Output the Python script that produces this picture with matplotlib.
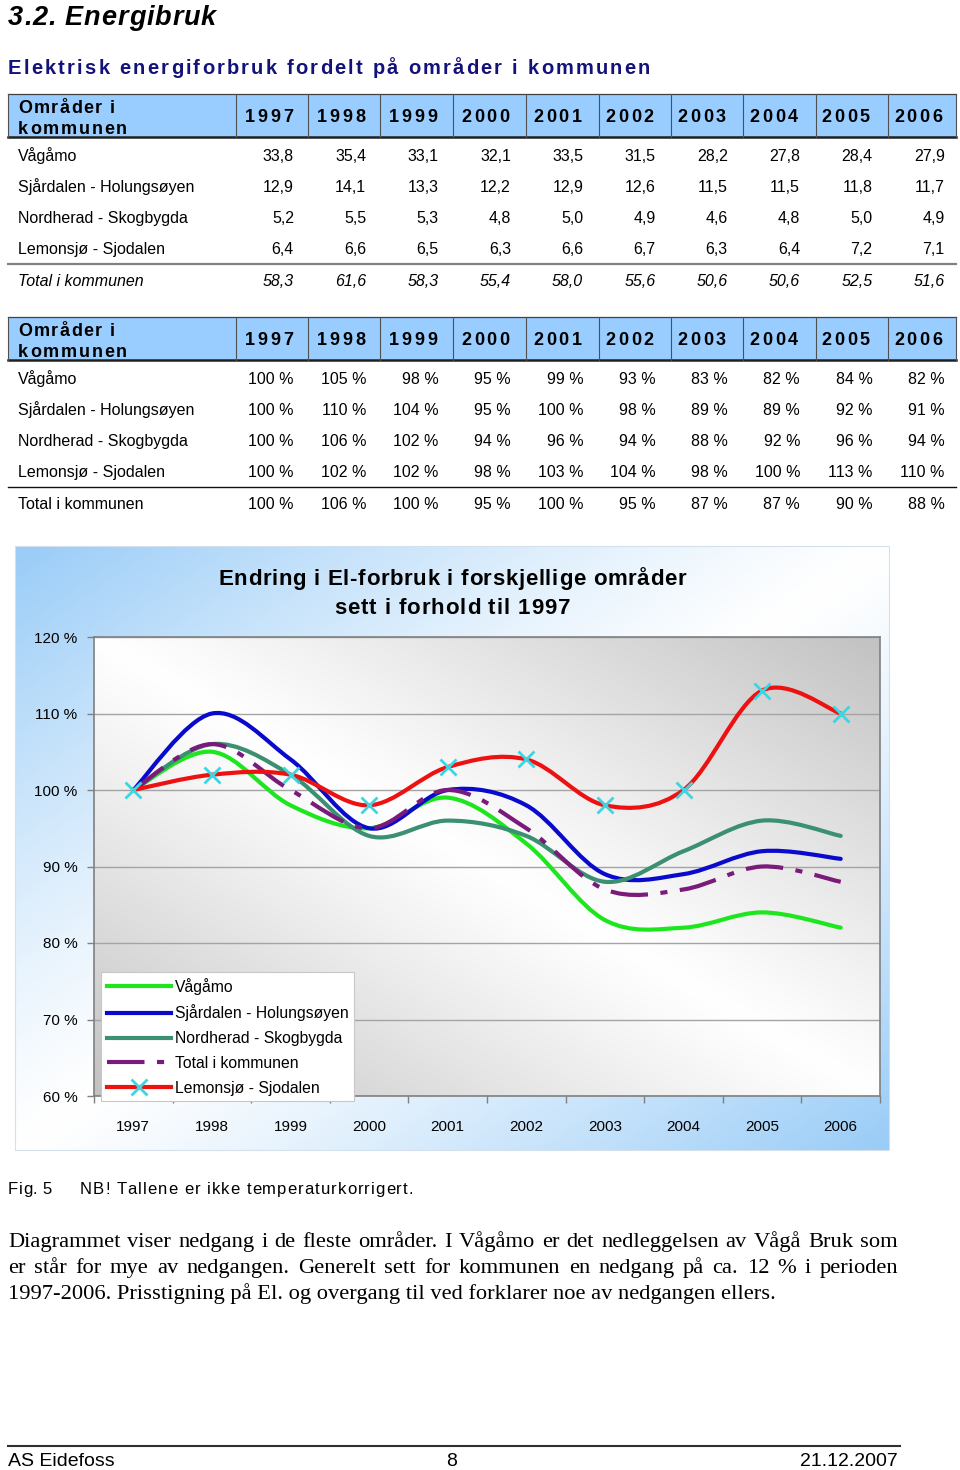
import numpy as np
import matplotlib
matplotlib.use("Agg")
import matplotlib.pyplot as plt
from matplotlib.path import Path
from matplotlib.patches import PathPatch, Rectangle
from matplotlib.lines import Line2D

plt.rcParams["font.family"] = ["Liberation Sans", "DejaVu Sans"]

# ------------------------------------------------------------
# Data
# ------------------------------------------------------------
YEARS = [1997, 1998, 1999, 2000, 2001, 2002, 2003, 2004, 2005, 2006]
AREAS = ["Vågåmo", "Sjårdalen - Holungsøyen", "Nordherad - Skogbygda",
         "Lemonsjø - Sjodalen"]
TOTAL_LABEL = "Total i kommunen"

# GWh per area
GWH_VAGAMO = [33.8, 35.4, 33.1, 32.1, 33.5, 31.5, 28.2, 27.8, 28.4, 27.9]
GWH_SJARDALEN = [12.9, 14.1, 13.3, 12.2, 12.9, 12.6, 11.5, 11.5, 11.8, 11.7]
GWH_NORDHERAD = [5.2, 5.5, 5.3, 4.8, 5.0, 4.9, 4.6, 4.8, 5.0, 4.9]
GWH_LEMONSJO = [6.4, 6.6, 6.5, 6.3, 6.6, 6.7, 6.3, 6.4, 7.2, 7.1]
GWH_TOTAL = [58.3, 61.6, 58.3, 55.4, 58.0, 55.6, 50.6, 50.6, 52.5, 51.6]

# relative to 1997 (%)
PCT_VAGAMO = [100, 105, 98, 95, 99, 93, 83, 82, 84, 82]
PCT_SJARDALEN = [100, 110, 104, 95, 100, 98, 89, 89, 92, 91]
PCT_NORDHERAD = [100, 106, 102, 94, 96, 94, 88, 92, 96, 94]
PCT_LEMONSJO = [100, 102, 102, 98, 103, 104, 98, 100, 113, 110]
PCT_TOTAL = [100, 106, 100, 95, 100, 95, 87, 87, 90, 88]

PARAGRAPH = [
    "Diagrammet viser nedgang i de fleste områder. I Vågåmo er det nedleggelsen av Vågå Bruk som",
    "er står for mye av nedgangen. Generelt sett for kommunen en nedgang på ca. 12 % i perioden",
    "1997-2006. Prisstigning på El. og overgang til ved forklarer noe av nedgangen ellers.",
]

# ------------------------------------------------------------
# Style
# ------------------------------------------------------------
HEAD_BLUE = "#99CCFF"
NAVY = "#12127A"
GREEN = "#1EE61E"
BLUE = "#0A0ACC"
SEAGREEN = "#3A9070"
PURPLE = "#7A1A7A"
RED = "#EE1111"
CYAN = "#3DD6E0"
DASH = (0, (9, 3, 1.7, 3))

W, H = 960, 1470
fig = plt.figure(figsize=(W / 100, H / 100), dpi=100)
page = fig.add_axes([0, 0, 1, 1])
page.set_xlim(0, W)
page.set_ylim(H, 0)
page.axis("off")
R = fig.canvas.get_renderer()


def adv(s, **kw):
    t = page.text(0, 0, s, **kw)
    w = t.get_window_extent(renderer=R).width
    t.remove()
    return w


def spread(s, x0, x1, y, **kw):
    """letter-spaced text filling x0..x1 on baseline y"""
    bar = adv("||", **kw)
    ws = [adv("|" + c + "|", **kw) - bar for c in s]
    gap = (x1 - x0 - sum(ws)) / max(len(s) - 1, 1)
    x = x0
    for c, w in zip(s, ws):
        if c != " ":
            page.text(x, y, c, ha="left", va="baseline", **kw)
        x += w + gap


def justify(line, x0, x1, y, **kw):
    words = line.split()
    ws = [adv(w, **kw) for w in words]
    gap = (x1 - x0 - sum(ws)) / (len(words) - 1)
    x = x0
    for w, wd in zip(words, ws):
        page.text(x, y, w, ha="left", va="baseline", **kw)
        x += wd + gap


# ------------------------------------------------------------
# Headings
# ------------------------------------------------------------
spread("3.2. Energibruk", 8, 216, 25, fontsize=19.5, fontweight="bold",
       fontstyle="italic")
spread("Elektrisk energiforbruk fordelt på områder i kommunen", 8, 650, 74,
       fontsize=14.5, fontweight="bold", color=NAVY)

# ------------------------------------------------------------
# Tables
# ------------------------------------------------------------
COL_EDGES = [8, 236, 308, 380, 453, 526, 599, 671, 743, 816, 888, 956]


def draw_table(top, bottom, rows, total, fmt, sep_color, sep_lw, italic_total):
    page.add_patch(Rectangle((8, top), 948, bottom - top,
                             facecolor=HEAD_BLUE, edgecolor="none"))
    page.plot([8, 956], [top, top], color="#404040", lw=0.9)
    page.plot([8, 956], [bottom, bottom], color="#202020", lw=1.8)
    for xe in COL_EDGES:
        page.plot([xe, xe], [top, bottom], color="#505050", lw=0.8)
    hk = dict(fontsize=13, fontweight="bold")
    spread("Områder i", 18, 115, top + 19, **hk)
    spread("kommunen", 18, 127, top + 40, **hk)
    for i, yr in enumerate(YEARS):
        x0 = 245 + 72.1 * i
        spread(str(yr), x0, x0 + 48, top + 28, **hk)

    for r, (name, vals) in enumerate(zip(AREAS, rows)):
        yb = bottom + 18 + 31 * r + 5.5
        page.text(18, yb, name, fontsize=11.5, va="baseline")
        for i, v in enumerate(vals):
            page.text(294 + 72.3 * i, yb, fmt(v), fontsize=11.5,
                      ha="right", va="baseline")
    page.plot([8, 956], [bottom + 127, bottom + 127], color=sep_color, lw=sep_lw)
    yb = bottom + 143 + 5.5
    st = "italic" if italic_total else "normal"
    page.text(18, yb, TOTAL_LABEL, fontsize=11.5, va="baseline", fontstyle=st)
    for i, v in enumerate(total):
        page.text(294 + 72.3 * i, yb, fmt(v), fontsize=11.5, ha="right",
                  va="baseline", fontstyle=st)


draw_table(94, 137,
           [GWH_VAGAMO, GWH_SJARDALEN, GWH_NORDHERAD, GWH_LEMONSJO], GWH_TOTAL,
           lambda v: f"{v:.1f}".replace(".", ","), "#808080", 1.6, True)
draw_table(317, 360,
           [PCT_VAGAMO, PCT_SJARDALEN, PCT_NORDHERAD, PCT_LEMONSJO], PCT_TOTAL,
           lambda v: f"{v} %", "#101010", 1.0, False)

# ------------------------------------------------------------
# Chart background
# ------------------------------------------------------------
u = np.linspace(0, 1, 300)[None, :]
v = np.linspace(0, 1, 200)[:, None]
t = np.clip(np.abs(u + v - 1), 0, 1) ** 1.2
outer = (1 - t)[..., None] * np.ones(3) + t[..., None] * np.array([0.60, 0.80, 0.97])
page.imshow(outer, extent=(15, 889, 1150, 546), aspect="auto", zorder=0,
            interpolation="bilinear")
page.add_patch(Rectangle((15, 546), 874, 604, facecolor="none",
                         edgecolor="#d4e0ec", lw=0.8))
page.set_xlim(0, W)
page.set_ylim(H, 0)
page.set_aspect("auto")

spread("Endring i El-forbruk i forskjellige områder", 218, 686, 585,
       fontsize=16, fontweight="bold")
spread("sett i forhold til 1997", 334, 570, 614, fontsize=16, fontweight="bold")

# ------------------------------------------------------------
# Chart
# ------------------------------------------------------------
ax = fig.add_axes([94 / W, 1 - 1096 / H, 786 / W, 459 / H])
ax.patch.set_visible(False)
tp = np.clip(np.abs(u - v), 0, 1) ** 1.1
inner = (1 - tp)[..., None] * np.ones(3) + tp[..., None] * np.array([0.76, 0.76, 0.76])
ax.imshow(inner, extent=(-0.5, 9.5, 60, 120), aspect="auto", zorder=-1,
          interpolation="bilinear")


def smooth_path(xs, ys):
    pts = np.column_stack([xs, ys]).astype(float)
    n = len(pts)
    verts, codes = [pts[0]], [Path.MOVETO]
    for i in range(n - 1):
        p0, p1 = pts[max(i - 1, 0)], pts[i]
        p2, p3 = pts[i + 1], pts[min(i + 2, n - 1)]
        verts += [p1 + (p2 - p0) / 6, p2 - (p3 - p1) / 6, p2]
        codes += [Path.CURVE4] * 3
    return Path(verts, codes)


x = np.arange(len(YEARS))
series = [
    (PCT_VAGAMO, GREEN, "-"),
    (PCT_SJARDALEN, BLUE, "-"),
    (PCT_NORDHERAD, SEAGREEN, "-"),
    (PCT_TOTAL, PURPLE, DASH),
    (PCT_LEMONSJO, RED, "-"),
]
for z, (vals, col, ls) in enumerate(series):
    ax.add_patch(PathPatch(smooth_path(x, vals), fill=False, edgecolor=col,
                           lw=3, linestyle=ls,
                           capstyle="butt" if ls != "-" else "round",
                           joinstyle="round", zorder=3 + z * 0.1))
ax.plot(x, PCT_LEMONSJO, ls="none", marker="x", ms=11, mew=2, color=CYAN,
        zorder=5)

ax.set_xlim(-0.5, 9.5)
ax.set_ylim(60, 120)
ax.set_yticks(range(60, 121, 10))
ax.set_yticklabels([f"{t_} %" for t_ in range(60, 121, 10)])
ax.set_xticks(x)
ax.set_xticklabels([str(y) for y in YEARS])
ax.set_xticks(np.arange(-0.5, 10, 1), minor=True)
ax.tick_params(axis="y", length=5, width=1, color="#808080", pad=7, labelsize=11)
ax.tick_params(axis="x", which="major", length=0, pad=17, labelsize=11)
ax.tick_params(axis="x", which="minor", length=5, width=1, color="#808080")
ax.grid(axis="y", color="#a4a4a4", lw=1)
ax.set_axisbelow(True)
for s in ax.spines.values():
    s.set_color("#808080")
    s.set_linewidth(1.2)

handles = [
    Line2D([], [], color=GREEN, lw=3),
    Line2D([], [], color=BLUE, lw=3),
    Line2D([], [], color=SEAGREEN, lw=3),
    Line2D([], [], color=PURPLE, lw=3, ls=DASH),
    Line2D([], [], color=RED, lw=3, marker="x", ms=11, mew=2, mec=CYAN),
]
labels = ["Vågåmo", "Sjårdalen - Holungsøyen", "Nordherad - Skogbygda",
          TOTAL_LABEL, "Lemonsjø - Sjodalen"]
leg = ax.legend(handles, labels, loc="lower left", bbox_to_anchor=(0.009, -0.011),
                fontsize=11.3, handlelength=4.1, handletextpad=0.25,
                labelspacing=0.62, borderpad=0.35, numpoints=1, frameon=True,
                fancybox=False, framealpha=1, edgecolor="#c8c8c8",
                borderaxespad=0)
leg.get_frame().set_linewidth(0.8)
leg.set_zorder(6)

# ------------------------------------------------------------
# Caption, paragraph, footer
# ------------------------------------------------------------
spread("Fig. 5", 8, 52, 1194, fontsize=12)
spread("NB! Tallene er ikke temperaturkorrigert.", 80, 413, 1194, fontsize=12)

serif = dict(fontsize=16.2, family=["Liberation Serif", "DejaVu Serif"])
justify(PARAGRAPH[0], 8, 898, 1247, **serif)
justify(PARAGRAPH[1], 8, 898, 1273, **serif)
page.text(8, 1299, PARAGRAPH[2], ha="left", va="baseline", **serif)

page.plot([8, 900], [1446, 1446], color="#303030", lw=1.5)
page.text(8, 1466, "AS Eidefoss", fontsize=14, va="baseline")
page.text(452, 1466, "8", fontsize=14, ha="center", va="baseline")
page.text(898, 1466, "21.12.2007", fontsize=14, ha="right", va="baseline")

fig.savefig("out.png", dpi=100)
